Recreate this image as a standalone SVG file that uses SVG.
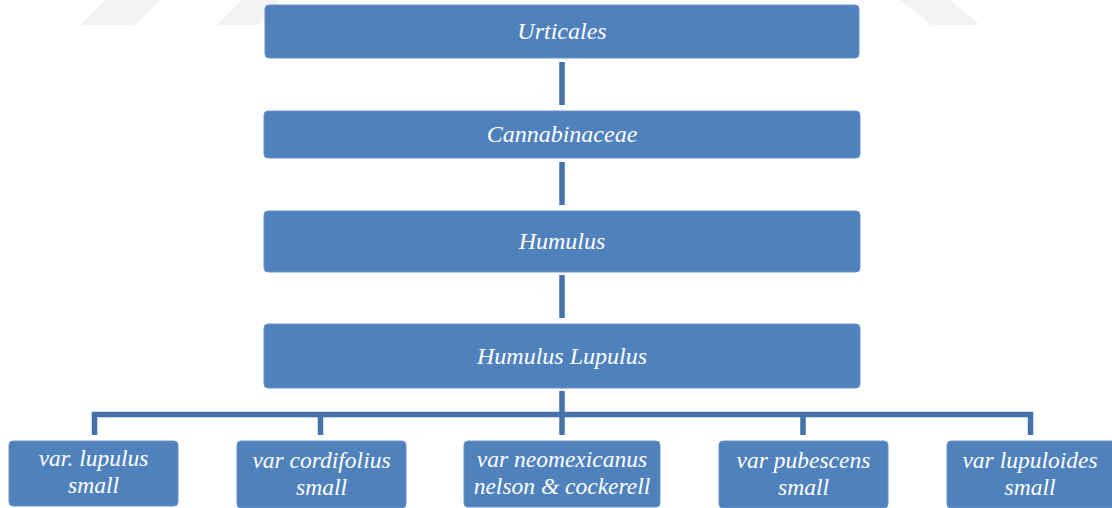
<svg xmlns="http://www.w3.org/2000/svg" width="1112" height="508" viewBox="0 0 1112 508">
<style>
.box{fill:#4f81bd;stroke:#6a93c6;stroke-width:1}
.t{font-family:'Liberation Serif','DejaVu Serif',serif;font-style:italic;fill:#ffffff;text-anchor:middle;font-size:24px}
.b{font-size:23.5px}
.c{stroke:#4672aa;stroke-width:5.5;fill:none}
.wm{fill:#f3f3f3}
</style>
<rect width="1112" height="508" fill="#ffffff"/>
<g id="watermark">
<polygon class="wm" points="105,0 160,0 135,25 80,25"/>
<polygon class="wm" points="242,0 280,0 258,25 217,25"/>
<polygon class="wm" points="900,0 950,0 980,25 932,25"/>
</g>
<g id="connectors">
<line class="c" x1="562" y1="62" x2="562" y2="105"/>
<line class="c" x1="562" y1="162" x2="562" y2="205"/>
<line class="c" x1="562" y1="275" x2="562" y2="318"/>
<line class="c" x1="562" y1="391" x2="562" y2="435"/>
<polyline class="c" points="94.5,435 94.5,414.5 1030.5,414.5 1030.5,435"/>
<line class="c" x1="320.5" y1="414" x2="320.5" y2="435"/>
<line class="c" x1="803" y1="414" x2="803" y2="435"/>
</g>
<g id="n-urticales">
<rect class="box" x="265" y="5" width="594" height="53" rx="4"/>
<text class="t" x="562" y="39">Urticales</text>
</g>
<g id="n-cannabinaceae">
<rect class="box" x="264" y="111" width="596" height="47" rx="4"/>
<text class="t" x="562" y="142">Cannabinaceae</text>
</g>
<g id="n-humulus">
<rect class="box" x="264" y="211" width="596" height="61" rx="4"/>
<text class="t" x="562" y="249">Humulus</text>
</g>
<g id="n-humulus-lupulus">
<rect class="box" x="264" y="324" width="596" height="64" rx="4"/>
<text class="t" x="562" y="364">Humulus Lupulus</text>
</g>
<g id="n-lupulus">
<rect class="box" x="9" y="441" width="169" height="65" rx="4"/>
<text class="t b" x="93.5" y="466">var. lupulus</text>
<text class="t b" x="93.5" y="493">small</text>
</g>
<g id="n-cordifolius">
<rect class="box" x="237" y="441" width="169" height="67" rx="4"/>
<text class="t b" x="321.5" y="468">var cordifolius</text>
<text class="t b" x="321.5" y="495">small</text>
</g>
<g id="n-neomexicanus">
<rect class="box" x="464" y="441" width="196" height="66" rx="4"/>
<text class="t b" x="562" y="467">var neomexicanus</text>
<text class="t b" x="562" y="494">nelson &amp; cockerell</text>
</g>
<g id="n-pubescens">
<rect class="box" x="719" y="441" width="169" height="67" rx="4"/>
<text class="t b" x="803.5" y="468">var pubescens</text>
<text class="t b" x="803.5" y="495">small</text>
</g>
<g id="n-lupuloides">
<rect class="box" x="947" y="441" width="169" height="67" rx="4"/>
<text class="t b" x="1030" y="468">var lupuloides</text>
<text class="t b" x="1030" y="495">small</text>
</g>
</svg>
